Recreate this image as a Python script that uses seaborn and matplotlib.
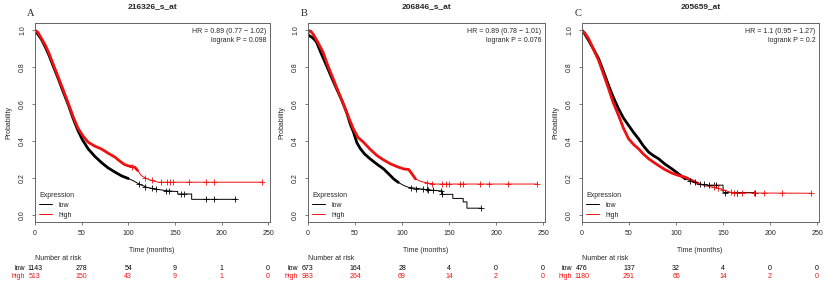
import numpy as np
import pandas as pd
import matplotlib
matplotlib.use("Agg")
import matplotlib.pyplot as plt
import seaborn as sns
from matplotlib.transforms import blended_transform_factory
from matplotlib.lines import Line2D

# ---------------- data ----------------
titles = ["216326_s_at", "206846_s_at", "205659_at"]
letters = ["A", "B", "C"]
hr_texts = ["HR = 0.89 (0.77 \u2212 1.02)", "HR = 0.89 (0.78 \u2212 1.01)", "HR = 1.1 (0.95 \u2212 1.27)"]
p_texts = ["logrank P = 0.098", "logrank P = 0.076", "logrank P = 0.2"]
groups = ["low", "high"]
risk_times = [0, 50, 100, 150, 200, 250]

a_risk_low = [1143, 278, 54, 9, 1, 0]
a_risk_high = [513, 150, 43, 9, 1, 0]
b_risk_low = [673, 164, 28, 4, 0, 0]
b_risk_high = [983, 264, 69, 14, 2, 0]
c_risk_low = [476, 137, 32, 4, 0, 0]
c_risk_high = [1180, 291, 65, 14, 2, 0]

# Panel A curves
a_low_t = [0, 3, 7, 11, 15, 20, 25, 30, 36, 41, 46, 51, 57, 64, 71, 78, 86, 93, 100, 105, 112, 120, 130, 141, 150, 153, 153, 168, 168, 216]
a_low_s = [1.0, 0.98, 0.95, 0.91, 0.865, 0.80, 0.737, 0.67, 0.592, 0.52, 0.457, 0.405, 0.357, 0.317, 0.284, 0.255, 0.23, 0.21, 0.196, 0.185, 0.165, 0.148, 0.138, 0.13, 0.126, 0.126, 0.112, 0.112, 0.083, 0.083]
a_low_ct = [112, 118, 125, 130, 141, 144, 157, 160, 183, 192, 215]
a_low_cs = [0.165, 0.152, 0.145, 0.138, 0.13, 0.13, 0.112, 0.112, 0.083, 0.083, 0.083]
a_high_t = [0, 3, 7, 11, 15, 20, 25, 30, 36, 41, 46, 51, 57, 64, 71, 78, 86, 91, 96, 100, 107, 110, 114, 118, 123, 132, 244]
a_high_s = [1.0, 0.99, 0.955, 0.92, 0.875, 0.81, 0.745, 0.68, 0.6, 0.53, 0.47, 0.43, 0.393, 0.372, 0.357, 0.335, 0.311, 0.29, 0.272, 0.265, 0.257, 0.24, 0.212, 0.2, 0.188, 0.176, 0.176]
a_high_ct = [104, 118, 125, 135, 142, 145, 148, 165, 183, 192, 243]
a_high_cs = [0.26, 0.2, 0.186, 0.176, 0.176, 0.176, 0.176, 0.176, 0.176, 0.176, 0.176]

# Panel B curves
b_low_t = [0, 0, 5, 9, 14, 19.6, 25, 30.4, 36, 41, 45, 48.2, 52, 55.4, 60, 66, 73, 80.4, 86, 91, 96, 101.8, 107, 119.6, 128.5, 143, 143, 154, 154, 165, 165, 169, 169, 184]
b_low_s = [1.0, 0.975, 0.96, 0.937, 0.875, 0.81, 0.745, 0.683, 0.62, 0.556, 0.49, 0.45, 0.39, 0.36, 0.33, 0.303, 0.275, 0.248, 0.22, 0.194, 0.175, 0.158, 0.148, 0.14, 0.134, 0.128, 0.11, 0.11, 0.088, 0.088, 0.069, 0.069, 0.035, 0.035]
b_low_ct = [110, 115, 122, 126, 128, 133, 141, 143, 184]
b_low_cs = [0.143, 0.141, 0.14, 0.137, 0.134, 0.132, 0.129, 0.11, 0.035]
b_high_t = [0, 3, 5.4, 10, 16, 21, 26.8, 32, 37.5, 43, 48.2, 53, 59, 66, 73.3, 80, 87.5, 95, 101.8, 107, 110, 114.3, 120, 127, 135, 244]
b_high_s = [1.0, 0.995, 0.98, 0.94, 0.882, 0.81, 0.737, 0.67, 0.601, 0.53, 0.466, 0.42, 0.393, 0.355, 0.321, 0.298, 0.276, 0.26, 0.248, 0.245, 0.225, 0.194, 0.18, 0.172, 0.166, 0.166]
b_high_ct = [127, 132, 143, 147, 150, 162, 165, 183, 192, 213, 244]
b_high_cs = [0.172, 0.168, 0.166, 0.166, 0.166, 0.166, 0.166, 0.166, 0.166, 0.166, 0.166]

# Panel C curves
c_low_t = [0, 3, 7, 12, 17.7, 23, 28.3, 33, 38.9, 44, 49.6, 55, 60.2, 65, 70.9, 76, 81.5, 88, 95.7, 103, 109.9, 117, 124, 134.7, 150, 150, 184]
c_low_s = [1.0, 0.98, 0.946, 0.9, 0.846, 0.775, 0.701, 0.64, 0.574, 0.525, 0.484, 0.445, 0.411, 0.375, 0.339, 0.32, 0.303, 0.275, 0.248, 0.22, 0.194, 0.18, 0.167, 0.16, 0.16, 0.12, 0.12]
c_low_ct = [115, 120, 125, 130, 135, 140, 143, 152, 165, 184]
c_low_cs = [0.183, 0.175, 0.168, 0.164, 0.16, 0.16, 0.16, 0.12, 0.12, 0.12]
c_high_t = [0, 3, 7, 12, 17.7, 23, 28.3, 33, 38.9, 44, 49.6, 55, 60.2, 65, 70.9, 76, 81.5, 88, 95.7, 103, 109.9, 117, 124, 132, 141.8, 150, 160, 244]
c_high_s = [1.0, 0.985, 0.955, 0.9, 0.837, 0.76, 0.683, 0.61, 0.538, 0.47, 0.411, 0.38, 0.357, 0.33, 0.303, 0.285, 0.266, 0.245, 0.225, 0.212, 0.203, 0.185, 0.167, 0.155, 0.148, 0.135, 0.118, 0.116]
c_high_ct = [140, 145, 150, 158, 162, 165, 170, 183, 193, 213, 243]
c_high_cs = [0.149, 0.144, 0.135, 0.121, 0.118, 0.118, 0.117, 0.117, 0.117, 0.116, 0.116]

panels = [
    dict(low=(a_low_t, a_low_s, a_low_ct, a_low_cs), high=(a_high_t, a_high_s, a_high_ct, a_high_cs),
         risk_low=a_risk_low, risk_high=a_risk_high),
    dict(low=(b_low_t, b_low_s, b_low_ct, b_low_cs), high=(b_high_t, b_high_s, b_high_ct, b_high_cs),
         risk_low=b_risk_low, risk_high=b_risk_high),
    dict(low=(c_low_t, c_low_s, c_low_ct, c_low_cs), high=(c_high_t, c_high_s, c_high_ct, c_high_cs),
         risk_low=c_risk_low, risk_high=c_risk_high),
]

# ---------------- style ----------------
dense_end = [[100, 112], [100, 118], [110, 124]]
colors = {"low": "black", "high": "#ee1111"}
frame_col = "#666666"

sns.set_theme(style="ticks")
plt.rcParams["font.family"] = ["Liberation Sans", "DejaVu Sans"]

W, H = 825, 287
fig = plt.figure(figsize=(W / 100, H / 100), dpi=100)
lefts = [35, 308, 582]
widths = [235, 237, 237]
top, bottom = 23, 222

def fy(py):
    return 1 - py / H

for i, pnl in enumerate(panels):
    ax = fig.add_axes([lefts[i] / W, fy(bottom), widths[i] / W, (bottom - top) / H])
    for g in groups:
        t, s, ct, cs = pnl[g]
        df = pd.DataFrame({"t": t, "s": s})
        sns.lineplot(data=df, x="t", y="s", estimator=None, sort=False, color=colors[g],
                     lw=0.7, ax=ax)
        dd = df[df["t"] <= dense_end[i][groups.index(g)]]
        sns.lineplot(data=dd, x="t", y="s", estimator=None, sort=False, color=colors[g],
                     lw=2.0, ax=ax)
        cdf = pd.DataFrame({"t": ct, "s": cs})
        sns.scatterplot(data=cdf, x="t", y="s", marker="+", s=16, linewidth=0.6,
                        color=colors[g], ax=ax, zorder=4)
    ax.set_xlim(0, 252)
    ax.set_ylim(-0.04, 1.04)
    ax.set_xticks(risk_times)
    ax.set_yticks([0, 0.2, 0.4, 0.6, 0.8, 1.0])
    ax.set_yticklabels(["0.0", "0.2", "0.4", "0.6", "0.8", "1.0"], rotation=90, va="center")
    ax.tick_params(axis="both", length=2.5, width=0.6, color=frame_col, labelsize=5, pad=3)
    ax.tick_params(axis="y", pad=4)
    for sp in ax.spines.values():
        sp.set_visible(True)
        sp.set_color(frame_col)
        sp.set_linewidth(0.7)
    ax.set_xlabel("")
    ax.set_ylabel("Probability", fontsize=5, labelpad=5)

    # HR text
    ax.text(0.985, 0.955, hr_texts[i], transform=ax.transAxes, ha="right", va="center", fontsize=5)
    ax.text(0.985, 0.91, p_texts[i], transform=ax.transAxes, ha="right", va="center", fontsize=5)

    # legend
    handles = [Line2D([], [], color=colors[g], lw=0.7) for g in groups]
    leg = ax.legend(handles, groups, title="Expression", loc="lower left", frameon=False,
                    fontsize=5, title_fontsize=5, handlelength=1.9, handletextpad=0.9,
                    borderaxespad=0.2, labelspacing=0.45, bbox_to_anchor=(0.0, -0.005))
    leg._legend_box.align = "left"

    # titles
    cx = (lefts[i] + widths[i] / 2) / W
    fig.text(cx, fy(7), titles[i], ha="center", va="center", fontsize=6, fontweight="bold")
    fig.text((lefts[i] - 4) / W, fy(14), letters[i], ha="center", va="center", fontsize=7.5,
             family=["Liberation Serif", "DejaVu Serif"])

    # x label and risk table
    bt = blended_transform_factory(ax.transData, fig.transFigure)
    ax.text(125, fy(251), "Time (months)", transform=bt, ha="center", va="center", fontsize=5)
    ax.text(0, fy(259), "Number at risk", transform=bt, ha="left", va="center", fontsize=5)
    for g, yy, vals in [("low", 268, pnl["risk_low"]), ("high", 277, pnl["risk_high"])]:
        ax.text(-11, fy(yy), g, transform=bt, ha="right", va="center", fontsize=5, color=colors[g])
        for tt, v in zip(risk_times, vals):
            ax.text(tt, fy(yy), str(v), transform=bt, ha="center", va="center", fontsize=5,
                    color=colors[g])

fig.savefig("out.png", dpi=100)
